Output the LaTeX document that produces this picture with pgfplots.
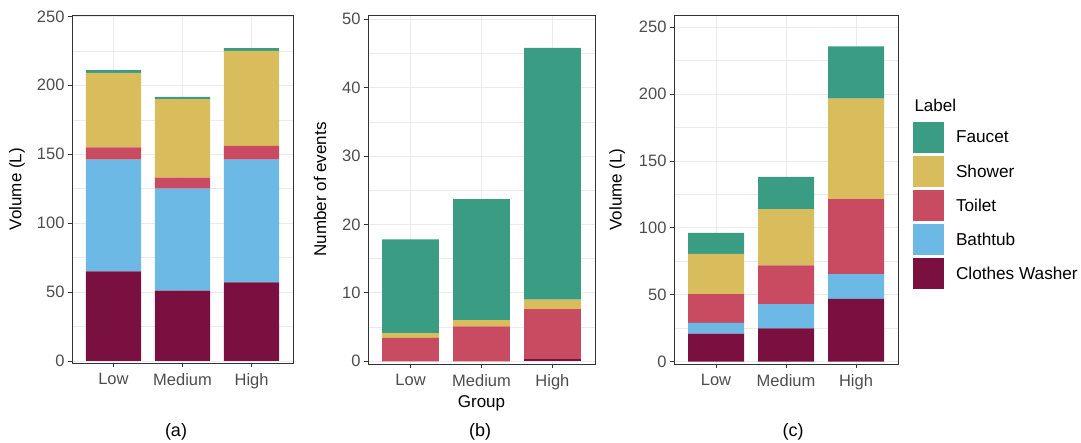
\documentclass[border=0pt]{standalone}
\usepackage{fontspec}
\setmainfont{Liberation Sans}
\usepackage{pgfplots}
\usepackage{pgfplotstable}
\pgfplotsset{compat=1.18}
\definecolor{cF}{HTML}{3A9C82}
\definecolor{cS}{HTML}{D9BC5C}
\definecolor{cT}{HTML}{C84B62}
\definecolor{cB}{HTML}{6DB9E6}
\definecolor{cW}{HTML}{7A1040}
\definecolor{g20}{HTML}{333333}
\definecolor{g30}{HTML}{4D4D4D}
\definecolor{gridc}{HTML}{EBEBEB}

\pgfplotstableread{
x W B T S F
0 65 81 9 54 2
1 51 74 8 57 1.5
2 57 89 10 69 2
}\dataA
\pgfplotstableread{
x W B T S F
0 0 0 3.4 0.7 13.7
1 0 0 5.1 0.9 17.7
2 0.3 0 7.3 1.4 36.8
}\dataB
\pgfplotstableread{
x W B T S F
0 21 8 21.5 30 15.7
1 25 18 29 42 24
2 47 18.5 56 75 39
}\dataC

\pgfplotsset{
  panel/.style={
    scale only axis, anchor=south west,
    ybar stacked, bar width=0.8,
    xmin=-0.6, xmax=2.6,
    xtick={0,1,2}, xticklabels={Low,Medium,High},
    tick align=outside, major tick length=4pt, minor tick length=0pt,
    xtick pos=left, ytick pos=left,
    tick style={color=g20, line width=0.8pt},
    axis line style={color=g20, line width=0.8pt},
    xmajorgrids=true, ymajorgrids=true, yminorgrids=true, minor y tick num=1,
    major grid style={color=gridc, line width=0.8pt},
    minor grid style={color=gridc, line width=0.4pt},
    ticklabel style={font=\fontsize{16.5}{19}\selectfont, text=g30},
    xticklabel style={yshift=-3pt},
    /pgf/number format/assume math mode=true,
    every axis plot/.append style={draw=none},
  }
}

\begin{document}
\begin{tikzpicture}
\path (0,0) rectangle (1081pt,443pt);
% (a)
\begin{axis}[panel, at={(72pt,80pt)}, width=221pt, height=348pt,
  ymin=-1.5, ymax=251, ytick={0,50,...,250},
  ylabel={Volume (L)},
  every axis y label/.style={at={(axis description cs:-0.249,0.5)}, rotate=90, anchor=center, font=\fontsize{17}{20}\selectfont}]
\addplot[fill=cW] table[x=x,y=W]{\dataA};
\addplot[fill=cB] table[x=x,y=B]{\dataA};
\addplot[fill=cT] table[x=x,y=T]{\dataA};
\addplot[fill=cS] table[x=x,y=S]{\dataA};
\addplot[fill=cF] table[x=x,y=F]{\dataA};
\end{axis}
% (b)
\begin{axis}[panel, at={(368pt,79pt)}, width=227pt, height=349pt,
  ymin=-0.4, ymax=50.6, ytick={0,10,...,50},
  ylabel={Number of events}, xlabel={Group},
  every axis y label/.style={at={(axis description cs:-0.211,0.5)}, rotate=90, anchor=center, font=\fontsize{17}{20}\selectfont},
  every axis x label/.style={at={(axis description cs:0.5,-0.112)}, anchor=center, font=\fontsize{17}{20}\selectfont}]
\addplot[fill=cW] table[x=x,y=W]{\dataB};
\addplot[fill=cB] table[x=x,y=B]{\dataB};
\addplot[fill=cT] table[x=x,y=T]{\dataB};
\addplot[fill=cS] table[x=x,y=S]{\dataB};
\addplot[fill=cF] table[x=x,y=F]{\dataB};
\end{axis}
% (c)
\begin{axis}[panel, at={(674pt,79pt)}, width=224pt, height=349pt,
  ymin=-1.7, ymax=259, ytick={0,50,...,250},
  ylabel={Volume (L)},
  every axis y label/.style={at={(axis description cs:-0.254,0.5)}, rotate=90, anchor=center, font=\fontsize{17}{20}\selectfont},
  reverse legend,
  legend cell align=left,
  legend image code/.code={\fill[#1] (0pt,-15.5pt) rectangle (31pt,15.5pt);},
  legend style={at={(axis description cs:1.067,0.693)}, anchor=north west,
    draw=none, fill=none, inner sep=0pt, outer sep=0pt,
    row sep=3pt, column sep=12pt,
    nodes={inner sep=0pt, font=\fontsize{17.2}{20}\selectfont, text=black}}]
\addplot[fill=cW] table[x=x,y=W]{\dataC}; \addlegendentry{Clothes Washer}
\addplot[fill=cB] table[x=x,y=B]{\dataC}; \addlegendentry{Bathtub}
\addplot[fill=cT] table[x=x,y=T]{\dataC}; \addlegendentry{Toilet}
\addplot[fill=cS] table[x=x,y=S]{\dataC}; \addlegendentry{Shower}
\addplot[fill=cF] table[x=x,y=F]{\dataC}; \addlegendentry{Faucet}
\end{axis}
\node[anchor=west, font=\fontsize{17}{20}\selectfont] at (911pt,338pt) {Label};
\node[font=\fontsize{18}{21}\selectfont] at (176pt,11pt) {(a)};
\node[font=\fontsize{18}{21}\selectfont] at (480pt,11pt) {(b)};
\node[font=\fontsize{18}{21}\selectfont] at (793pt,11pt) {(c)};
\pgfresetboundingbox
\path[use as bounding box] (0,0) rectangle (1081pt,443pt);
\end{tikzpicture}
\end{document}
